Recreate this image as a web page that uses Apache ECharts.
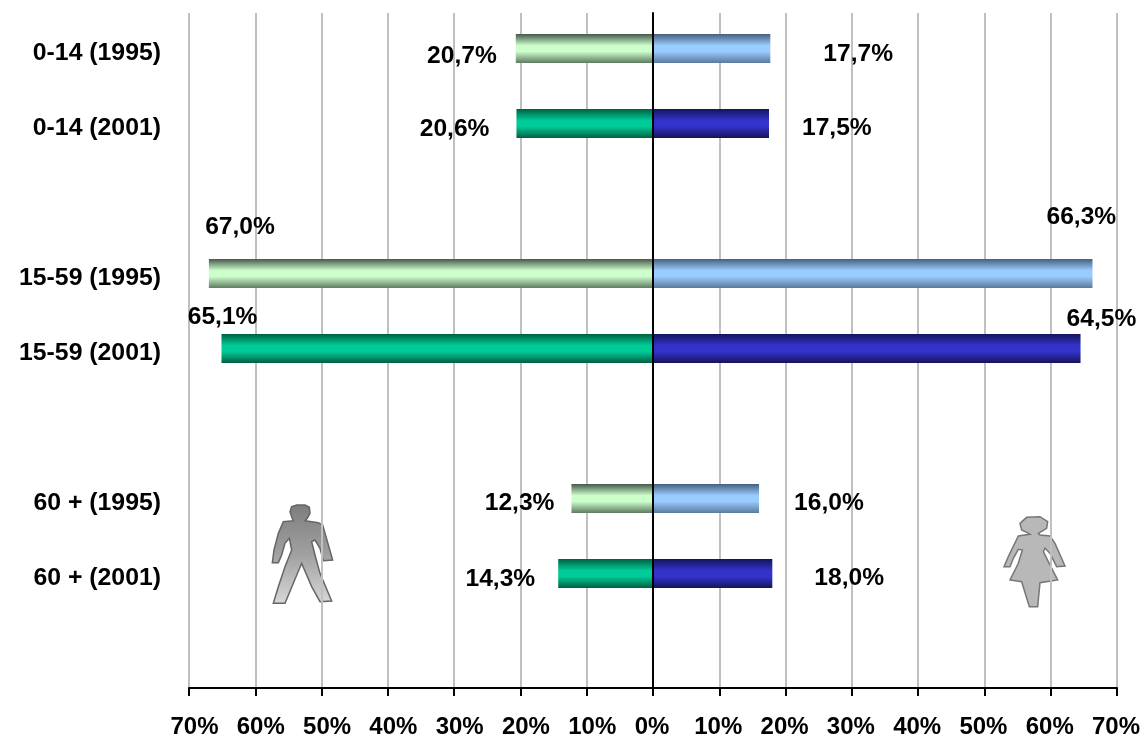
<!DOCTYPE html>
<html>
<head>
<meta charset="utf-8">
<style>html,body{margin:0;padding:0;background:#fff}#c{width:1145px;height:736px}</style>
<script src="https://cdn.jsdelivr.net/npm/echarts@6/dist/echarts.min.js"></script>
</head>
<body>
<div id="c"></div>
<script>
var categories = ['0-14 (1995)','0-14 (2001)','','15-59 (1995)','15-59 (2001)','','60 + (1995)','60 + (2001)',''];
var maleValues = [20.7,20.6,null,67.0,65.1,null,12.3,14.3,null];
var femaleValues = [17.7,17.5,null,66.3,64.5,null,16.0,18.0,null];
var maleLabelOffsets = [[-19,8],[-27,6],null,[66,-46],[36,-31],null,[-17,5],[-23,6],null];
var femaleLabelOffsets = [[53,6],[33,5],null,[-46,-56],[-14,-29],null,[35,5],[42,5],null];

var manOutline = [[125,50],[140,45],[165,45],[178,52],[180,70],[172,85],[165,92],[205,98],[218,105],[228,140],[248,210],[220,212],[210,175],[195,150],[185,155],[195,195],[210,250],[245,333],[210,335],[185,290],[155,220],[130,280],[105,340],[70,340],[85,290],[105,230],[125,180],[118,145],[105,160],[95,195],[85,218],[67,218],[72,180],[85,130],[100,95],[130,92],[125,80],[120,65]];
var womanOutline = [[105,70],[125,52],[165,50],[188,65],[185,85],[160,100],[165,105],[195,108],[210,130],[240,198],[215,200],[195,160],[180,145],[175,155],[190,185],[218,240],[165,248],[158,320],[133,320],[110,245],[75,240],[100,190],[112,150],[100,148],[85,175],[75,200],[57,200],[70,170],[100,108],[135,103],[125,97],[110,90]];

function band(edgeTop, mid, edgeBottom) {
  return {type:'linear',x:0,y:0,x2:0,y2:1,colorStops:[
    {offset:0,color:edgeTop},{offset:0.4,color:mid},{offset:0.6,color:mid},{offset:1,color:edgeBottom}]};
}
var male1995 = band('#47584a','#ccffcc','#5f7a62');
var male2001 = band('#006040','#00cc99','#006040');
var female1995 = band('#46607e','#99ccff','#5a7a9c');
var female2001 = band('#15155a','#3333cc','#15155a');

function barData(values, offsets, c95, c01, pos) {
  return values.map(function (v, i) {
    if (v === null) return null;
    var is95 = categories[i].indexOf('1995') >= 0;
    return {
      value: pos === 'left' ? -v : v,
      itemStyle: {color: is95 ? c95 : c01},
      label: {show:true, position:pos, distance:0, offset:offsets[i]}
    };
  });
}
var fontFamily = '"Liberation Sans",Arial,sans-serif';
var labelBase = {
  color:'#000', fontFamily:fontFamily, fontWeight:'bold', fontSize:24.6,
  formatter:function (p) { return Math.abs(p.value).toFixed(1).replace('.',',') + '%'; }
};
function scaled(points, ox, oy) {
  return points.map(function (p) { return [ox + p[0]/3, oy + p[1]/3]; });
}
var tickFont = {color:'#000', fontFamily:fontFamily, fontWeight:'bold', fontSize:24};

var chart = echarts.init(document.getElementById('c'), null, {renderer:'canvas'});
chart.setOption({
  animation:false,
  backgroundColor:'#fff',
  grid:[
    {left:189, top:13, width:928, height:675, outerBoundsMode:'none'},
    {left:189, top:11, width:928, height:675, outerBoundsMode:'none'}
  ],
  xAxis:[
    {gridIndex:0, type:'value', min:-70, max:70, interval:10,
     axisLine:{show:true, onZero:false, lineStyle:{color:'#000', width:2}},
     axisTick:{show:true, length:8, lineStyle:{color:'#000', width:2}},
     axisLabel:{margin:27,
       formatter:function (v) { return (v < 0 ? '{neg|' : '{pos|') + Math.abs(v) + '%}'; },
       rich:{
         neg:Object.assign({padding:[0,0,0,11]}, tickFont),
         pos:Object.assign({padding:[0,2,0,0]}, tickFont)
       }},
     splitLine:{show:true, lineStyle:{color:'#c0c0c0', width:2}}},
    {gridIndex:1, type:'value', min:-70, max:70, interval:10, show:false, splitLine:{show:false}}
  ],
  yAxis:[
    {gridIndex:0, type:'category', inverse:true, data:categories,
     axisLine:{show:false, onZero:false}, axisTick:{show:false}, splitLine:{show:false},
     axisLabel:{margin:28, interval:0,
       formatter:function (v) { return v ? '{c|' + v + '}' : ''; },
       rich:{c:{padding:[5,0,0,0], color:'#000', fontFamily:fontFamily, fontWeight:'bold', fontSize:24.8}}}},
    {gridIndex:0, type:'category', inverse:true, data:categories, z:5,
     axisLine:{show:true, onZero:true, lineStyle:{color:'#000', width:2}},
     axisTick:{show:false}, axisLabel:{show:false}, splitLine:{show:false}},
    {gridIndex:1, type:'category', inverse:true, data:categories, show:false}
  ],
  graphic:{elements:[
    {type:'polygon', z:-1, silent:true, shape:{points:scaled(manOutline,250,490)},
     style:{fill:{type:'linear',x:0,y:0,x2:0,y2:1,colorStops:[{offset:0,color:'#7d7d7d'},{offset:0.5,color:'#a0a0a0'},{offset:1,color:'#d8d8d8'}]}, stroke:'#666', lineWidth:1.5}},
    {type:'polygon', z:-1, silent:true, shape:{points:scaled(womanOutline,985,500)},
     style:{fill:'#b8b8b8', stroke:'#777', lineWidth:1.5}}
  ]},
  series:[
    {name:'Men', type:'bar', xAxisIndex:1, yAxisIndex:2, stack:'all', barWidth:29, z:3,
     label:labelBase, data:barData(maleValues, maleLabelOffsets, male1995, male2001, 'left')},
    {name:'Women', type:'bar', xAxisIndex:1, yAxisIndex:2, stack:'all', barWidth:29, z:3,
     label:labelBase, data:barData(femaleValues, femaleLabelOffsets, female1995, female2001, 'right')}
  ]
});
</script>
</body>
</html>
